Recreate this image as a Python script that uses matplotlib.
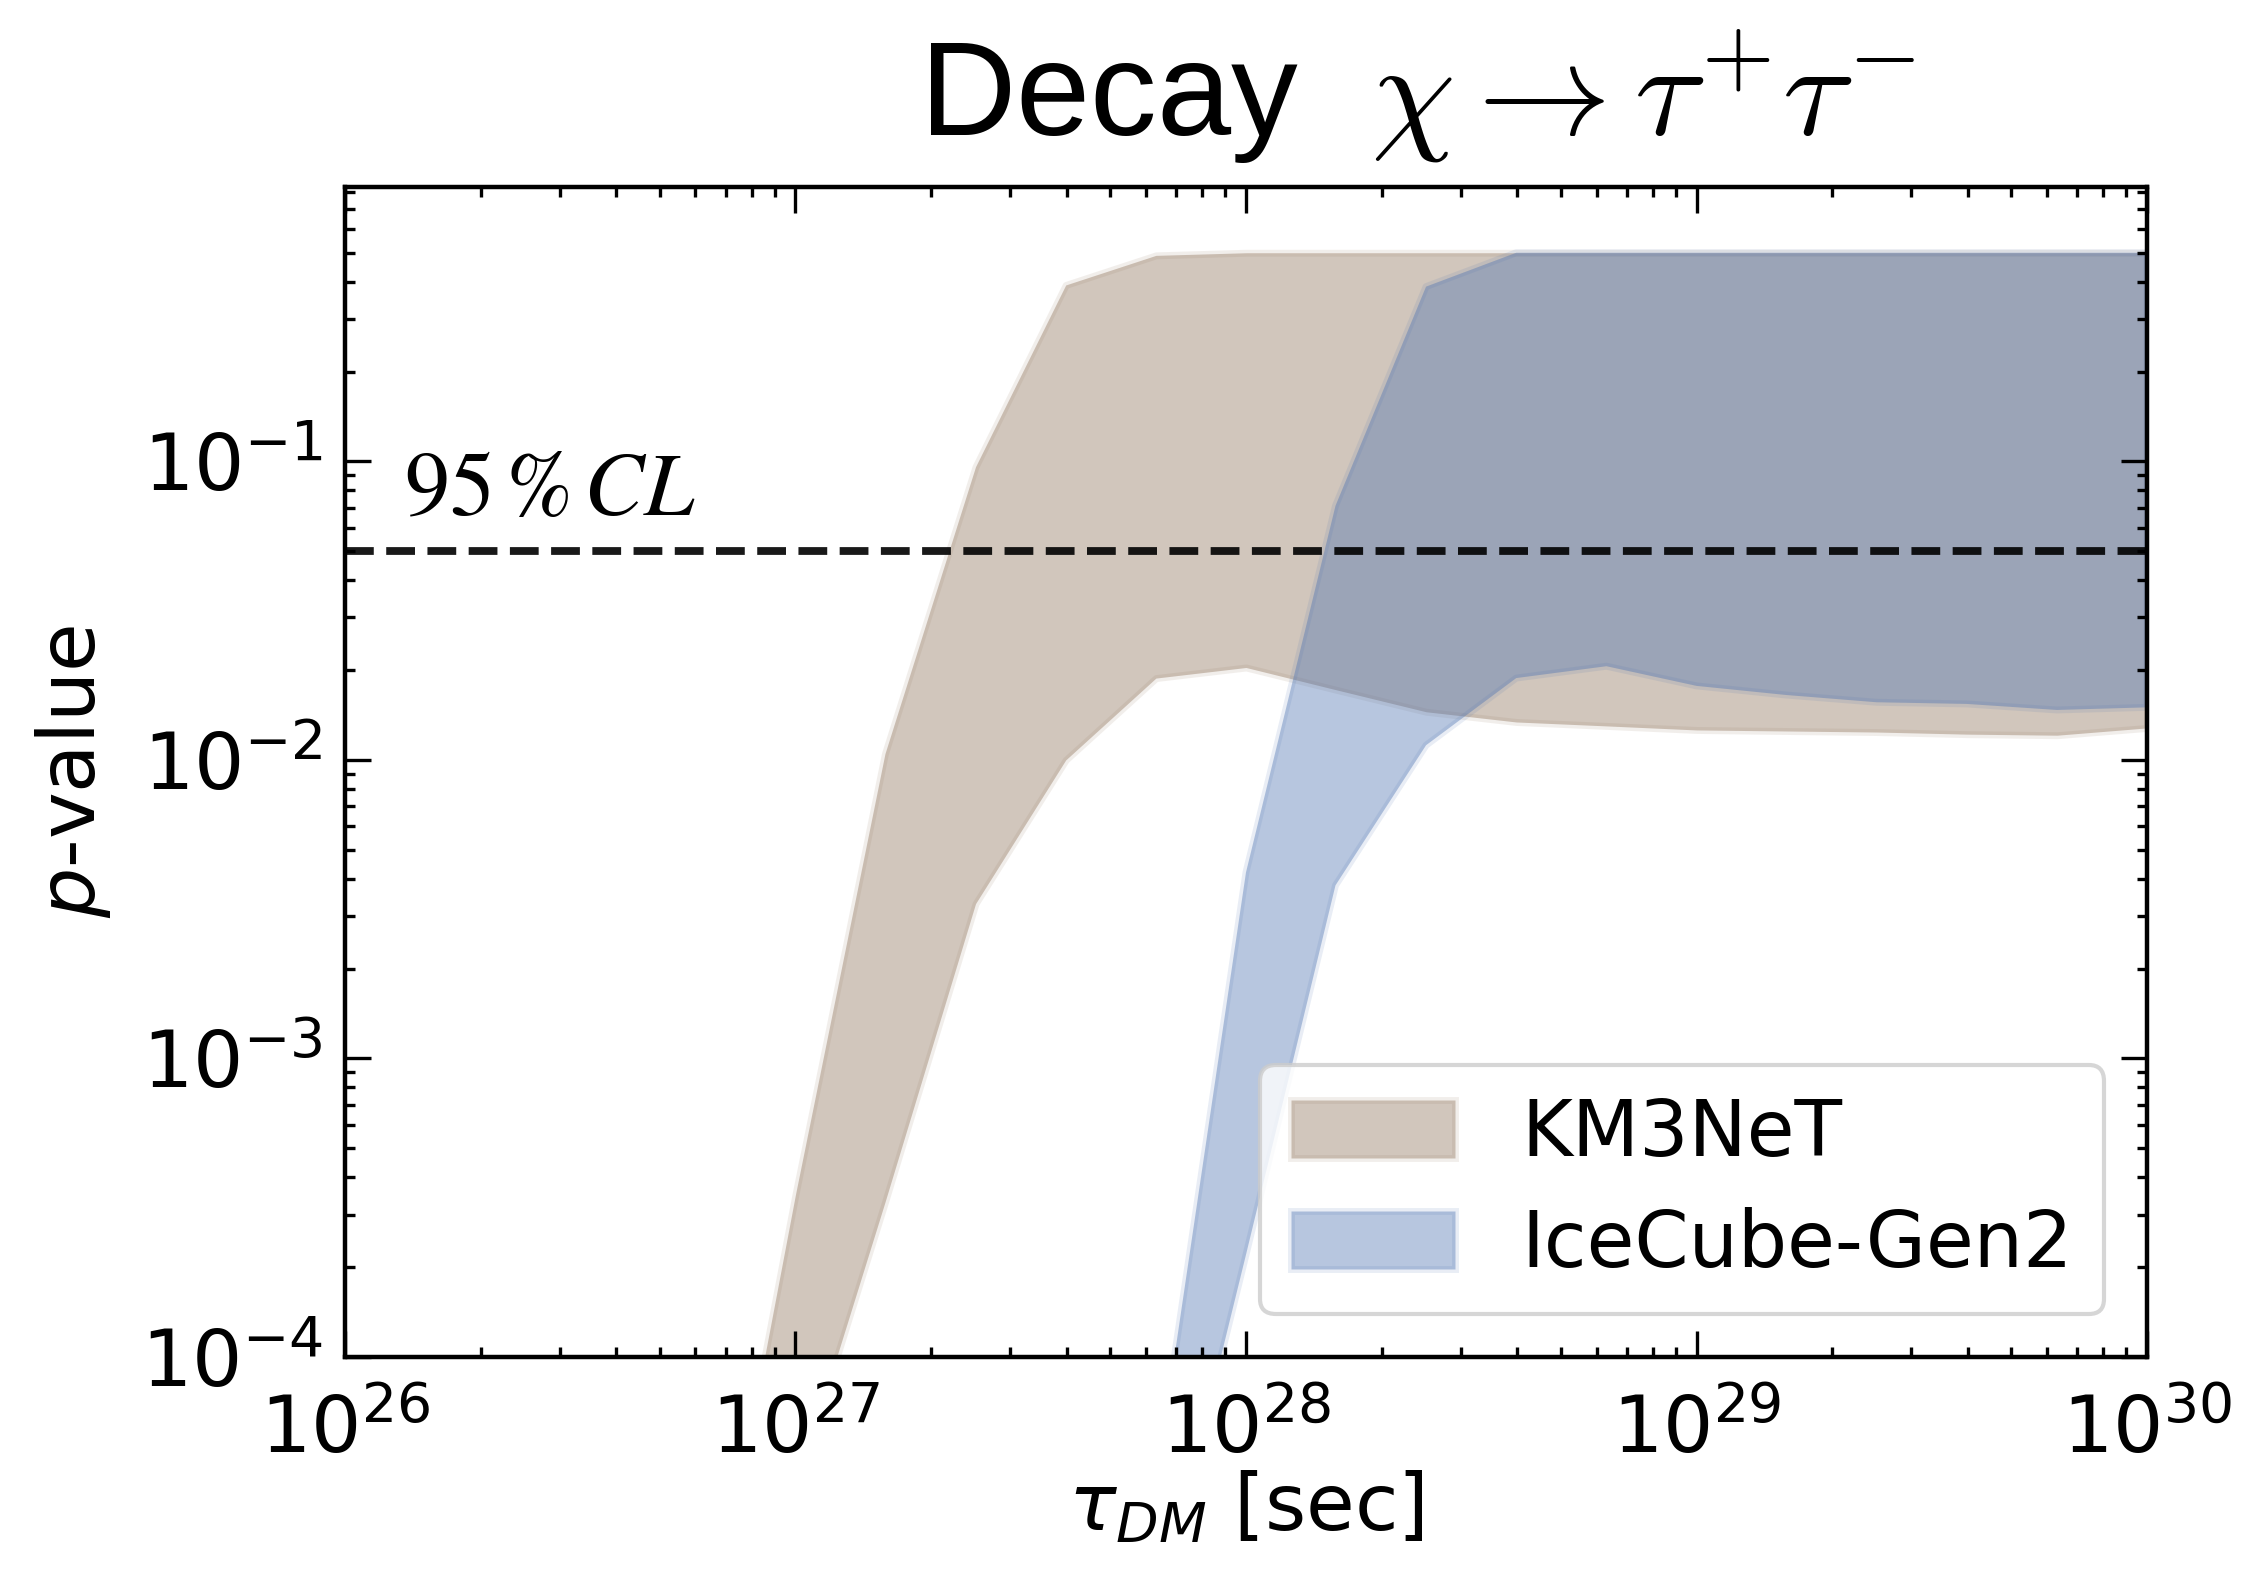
import matplotlib
matplotlib.use("Agg")
import matplotlib.pyplot as plt
from matplotlib.colors import to_rgba
from matplotlib.ticker import LogLocator, NullFormatter


# p-value bands (0.2 decade grid in tau)
tau_km3 = [6.31e26, 1.0e27, 1.58e27, 2.51e27, 3.98e27, 6.31e27, 1.0e28,
           1.58e28, 2.51e28, 3.98e28, 6.31e28, 1.0e29, 1.58e29, 2.51e29,
           3.98e29, 6.31e29, 1.0e30]
km3_upper = [9e-6, 3.5e-4, 1.05e-2, 9.6e-2, 0.39, 0.49, 0.50,
             0.50, 0.50, 0.50, 0.50, 0.50, 0.50, 0.50,
             0.50, 0.50, 0.50]
km3_lower = [4e-6, 3.6e-5, 3.3e-4, 3.3e-3, 1.0e-2, 1.88e-2, 2.04e-2,
             1.72e-2, 1.45e-2, 1.34e-2, 1.30e-2, 1.26e-2, 1.25e-2, 1.24e-2,
             1.22e-2, 1.21e-2, 1.28e-2]

tau_ic = [3.98e27, 6.31e27, 1.0e28, 1.58e28, 2.51e28, 3.98e28, 6.31e28,
          1.0e29, 1.58e29, 2.51e29, 3.98e29, 6.31e29, 1.0e30]
ic_upper = [1e-6, 3.8e-5, 4.2e-3, 7.1e-2, 0.385, 0.50, 0.50,
            0.50, 0.50, 0.50, 0.50, 0.50, 0.50]
ic_lower = [1e-7, 1.3e-5, 2.2e-4, 3.8e-3, 1.12e-2, 1.88e-2, 2.06e-2,
            1.77e-2, 1.65e-2, 1.56e-2, 1.54e-2, 1.47e-2, 1.50e-2]

labels = ["KM3NeT", "IceCube-Gen2"]
cl_level = 0.05

brown = "#937860"
blue = "#4C72B0"


plt.rcParams["font.family"] = "DejaVu Sans"

fig = plt.figure(figsize=(11.22, 7.905), dpi=200)
ax = fig.add_axes([0.1537, 0.1417, 0.8031, 0.74])

ax.fill_between(tau_km3, km3_lower, km3_upper,
                facecolor=to_rgba(brown, 0.42), edgecolor=to_rgba(brown, 0.12),
                lw=2.5, label=labels[0])
ax.fill_between(tau_ic, ic_lower, ic_upper,
                facecolor=to_rgba(blue, 0.40), edgecolor=to_rgba(blue, 0.12),
                lw=2.5, label=labels[1])

ax.axhline(cl_level, color="k", ls="--", lw=2.8, alpha=0.9, zorder=3)
ax.text(1.35e26, 0.066, r"$95\,\%\,CL$", math_fontfamily="stix",
        fontsize=32.5, va="baseline")

ax.set_xscale("log")
ax.set_yscale("log")
ax.set_xlim(1e26, 1e30)
ax.set_ylim(1e-4, 0.83)

minor_subs = (2, 3, 4, 5, 6, 7, 8, 9)
ax.xaxis.set_major_locator(LogLocator(base=10, numticks=10))
ax.xaxis.set_minor_locator(LogLocator(base=10, subs=minor_subs, numticks=30))
ax.yaxis.set_major_locator(LogLocator(base=10, numticks=10))
ax.yaxis.set_minor_locator(LogLocator(base=10, subs=minor_subs, numticks=30))
ax.xaxis.set_minor_formatter(NullFormatter())
ax.yaxis.set_minor_formatter(NullFormatter())

ax.tick_params(which="both", direction="in", top=True, right=True,
               labelsize=28.5, width=1.2)
ax.tick_params(axis="x", which="both", pad=13)
ax.tick_params(axis="y", which="both", pad=8)
ax.tick_params(which="major", length=9.4)
ax.tick_params(which="minor", length=3.6)
for sp in ax.spines.values():
    sp.set_linewidth(1.6)

ax.set_xlabel(r"$\tau_{DM}$ [sec]", fontsize=28.5, labelpad=0)
ax.set_ylabel(r"$p$-value", fontsize=28.5, labelpad=10)

leg = ax.legend(loc="lower right", fontsize=28, handlelength=2.1,
                handleheight=0.78, handletextpad=0.86, borderaxespad=0.55,
                labelspacing=0.45, framealpha=0.8, edgecolor="0.8")
leg.get_frame().set_linewidth(1.5)

fig.text(0.6315, 0.914, r"Decay  $\chi\rightarrow\tau^{+}\tau^{-}$",
         family="Liberation Sans", math_fontfamily="cm", fontsize=48,
         ha="center", va="baseline")

fig.savefig("out.png", dpi=200)
